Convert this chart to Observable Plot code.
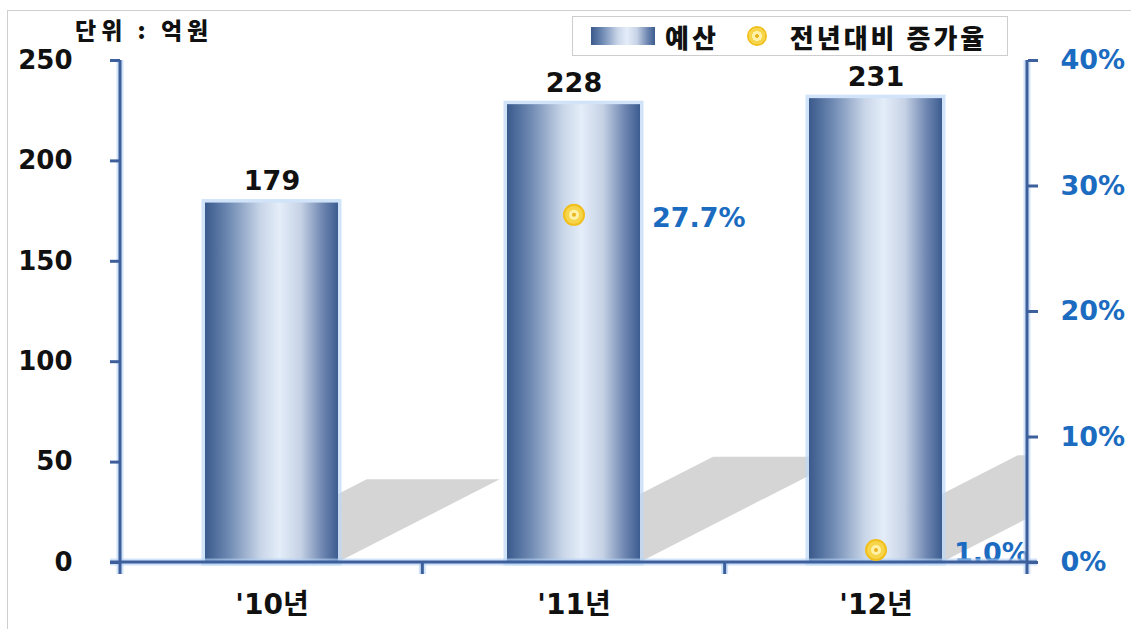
<!DOCTYPE html>
<html><head><meta charset="utf-8">
<script src="https://cdn.jsdelivr.net/npm/d3@7"></script>
<script src="https://cdn.jsdelivr.net/npm/@observablehq/plot@0.6"></script>
<style>
body{margin:0;background:#fff;}
#wrap{position:relative;width:1131px;height:629px;overflow:hidden;font-family:"Noto Sans CJK KR","Noto Sans",sans-serif;}
#chart{position:absolute;left:0;top:0;}
#frame{position:absolute;left:7px;top:10px;width:1140px;height:640px;border:1.5px solid #cfcfcf;pointer-events:none;}
#unit{position:absolute;left:75px;top:14px;font-size:23px;line-height:30px;font-weight:900;letter-spacing:5px;color:#111;white-space:nowrap;}
#legend{position:absolute;left:572px;top:16px;width:436px;height:40px;border:1.5px solid #cdcdcd;background:#fff;display:flex;align-items:center;font-size:26px;font-weight:900;letter-spacing:3px;color:#111;box-sizing:border-box;white-space:nowrap;}
#legend .sw{width:64px;height:18px;margin-left:18px;background:linear-gradient(to right,#3a5a8c 0%,#6f8ab3 18%,#c9d6e8 42%,#e4edf9 56%,#c6d2e5 72%,#7088b2 88%,#3c5c90 100%);}
#legend .dot{width:20px;height:20px;border-radius:50%;margin-left:28px;background:radial-gradient(circle,#e8b31c 0 2px,#fff2a8 2px 5px,#f7d54a 5px 8.5px,#f1bf1c 8.5px 10px);}
</style></head>
<body>
<div id="wrap">
  <div id="chart"></div>
  <div id="unit">단위 : 억원</div>
  <div id="legend"><div class="sw"></div><span style="margin-left:10px">예산</span><div class="dot"></div><span style="margin-left:23px">전년대비 증가율</span></div>
  <div id="frame"></div>
</div>
<script>
const years = ["'10년", "'11년", "'12년"];
const budget = [179, 228, 231];
const growth = [null, 27.7, 1.0];
const yTicks = [0, 50, 100, 150, 200, 250];
const pctTicks = [0, 10, 20, 30, 40];
const yMax = 250, pctMax = 40;
const k = yMax / pctMax;

const rows = years.map((y, i) => ({year: y, budget: budget[i], growth: growth[i]}));
const growthRows = rows.filter(d => d.growth != null);

const numFont = "DejaVu Sans, Noto Sans CJK KR, sans-serif";
const axisColor = "#3d5f9b";
const blue = "#1b6cc0";
const padInner = 0.56;

function defs() {
  const d = d3.create("svg:defs");
  const g = d.append("linearGradient").attr("id", "barGrad").attr("x1", "0").attr("x2", "1").attr("y1", "0").attr("y2", "0");
  [[0, "#3a5a8c"], [0.18, "#6f8ab3"], [0.42, "#c9d6e8"], [0.56, "#e4edf9"], [0.72, "#c6d2e5"], [0.88, "#7088b2"], [1, "#3c5c90"]]
    .forEach(([o, c]) => g.append("stop").attr("offset", o).attr("stop-color", c));
  return d.node();
}

function shadows(index, scales, values, dim) {
  const g = d3.create("svg:g");
  const x0 = dim.marginLeft, x1 = dim.width - dim.marginRight;
  const step = (x1 - x0) / years.length;
  const bw = typeof scales.x.bandwidth === "function" ? scales.x.bandwidth() : step * (1 - padInner);
  const y0 = scales.y(0);
  g.append("clipPath").attr("id", "shClip").append("rect")
    .attr("x", x0).attr("y", 0).attr("width", x1 - x0).attr("height", y0);
  const gg = g.append("g").attr("clip-path", "url(#shClip)");
  rows.forEach(d => {
    const L = scales.x(d.year), R = L + bw, h = y0 - scales.y(d.budget);
    const dy = 0.23 * h, dx = 0.45 * h;
    gg.append("path").attr("d", `M${L},${y0}L${R},${y0}L${R + dx},${y0 - dy}L${L + dx},${y0 - dy}Z`)
      .attr("fill", "#d5d5d5");
  });
  return g.node();
}

function axisLines(index, scales, values, dim) {
  const g = d3.create("svg:g");
  const x0 = dim.marginLeft, x1 = dim.width - dim.marginRight;
  const yTop = scales.y(yMax), y0 = scales.y(0);
  const step = (x1 - x0) / years.length;
  const segs = [[x0, yTop, x0, y0 + 12], [x1, yTop, x1, y0 + 12], [x0 - 10, y0, x1 + 10, y0]];
  for (let i = 1; i < years.length; i++) segs.push([x0 + i * step, y0, x0 + i * step, y0 + 12]);
  [["#b3d0f3", 7, 0.6], [axisColor, 3, 1]].forEach(([c, w, o]) => {
    segs.forEach(([a, b, cc, dd]) => g.append("line").attr("x1", a).attr("y1", b).attr("x2", cc).attr("y2", dd)
      .attr("stroke", c).attr("stroke-width", w).attr("stroke-opacity", o));
  });
  return g.node();
}

const chart = Plot.plot({
  width: 1131,
  height: 629,
  marginLeft: 120,
  marginRight: 104,
  marginTop: 60,
  marginBottom: 67,
  style: {background: "none", fontFamily: numFont, overflow: "visible"},
  x: {domain: years, paddingInner: padInner, paddingOuter: padInner / 2},
  y: {domain: [0, yMax]},
  marks: [
    defs,
    shadows,
    Plot.barY(rows, {x: "year", y: "budget", fill: "none", stroke: "#bcd7f7", strokeWidth: 7, strokeOpacity: 0.7}),
    Plot.barY(rows, {x: "year", y: "budget", fill: "url(#barGrad)"}),
    Plot.text(rows, {x: "year", y: "budget", text: d => String(d.budget), dy: -13, lineAnchor: "bottom",
      fontSize: 27, fontWeight: "bold", fill: "#111", fontFamily: numFont}),
    Plot.text(growthRows, {x: "year", y: d => d.growth * k, text: d => d.growth.toFixed(1) + "%", dx: 78,
      textAnchor: "start", dy: 3, fontSize: 27, fontWeight: "bold", fill: blue, fontFamily: numFont}),
    axisLines,
    Plot.axisY({anchor: "left", ticks: yTicks, tickSize: 10, tickPadding: 38, stroke: axisColor, strokeWidth: 3,
      fill: "#111", fontSize: 26, fontWeight: "bold", fontFamily: numFont, label: null}),
    Plot.axisY({anchor: "right", ticks: pctTicks.map(p => p * k), tickFormat: v => Math.round(v / k) + "%",
      tickSize: 10, tickPadding: 23, stroke: axisColor, strokeWidth: 3, fill: blue, fontSize: 27,
      fontWeight: "bold", fontFamily: numFont, label: null}),
    Plot.axisX({anchor: "bottom", tickSize: 0, tickPadding: 32, fill: "#111", fontSize: 28, fontWeight: "bold",
      fontFamily: numFont, label: null}),
    Plot.dot(growthRows, {x: "year", y: d => d.growth * k, r: 10, fill: "#f7d54a", stroke: "#f1bf1c", strokeWidth: 2}),
    Plot.dot(growthRows, {x: "year", y: d => d.growth * k, r: 5, fill: "#fff2a8", stroke: "none"}),
    Plot.dot(growthRows, {x: "year", y: d => d.growth * k, r: 2, fill: "#e8b31c", stroke: "none"})
  ]
});
document.getElementById("chart").appendChild(chart);
</script>
</body></html>
